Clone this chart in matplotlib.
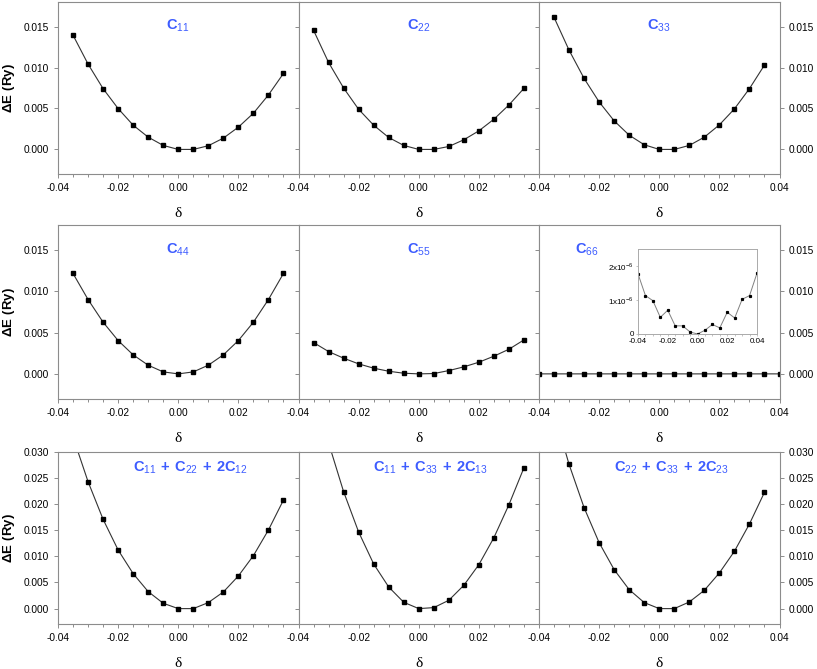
"""Strain-energy curves dE(delta) for the nine elastic constant distortions (3x3 panels)."""
import numpy as np
import matplotlib

matplotlib.use("Agg")
import matplotlib.pyplot as plt

plt.rcParams["font.family"] = ["Liberation Sans", "DejaVu Sans"]
plt.rcParams["mathtext.fontset"] = "custom"
plt.rcParams["mathtext.rm"] = "Liberation Sans"
plt.rcParams["mathtext.bf"] = "Liberation Sans:bold"

# strains
delta = [-0.035, -0.030, -0.025, -0.020, -0.015, -0.010, -0.005, 0.000,
         0.005, 0.010, 0.015, 0.020, 0.025, 0.030, 0.035]
delta_66 = [-0.040, -0.035, -0.030, -0.025, -0.020, -0.015, -0.010, -0.005, 0.000,
            0.005, 0.010, 0.015, 0.020, 0.025, 0.030, 0.035, 0.040]

# energies (Ry)
dE_11 = [0.01395, 0.01042, 0.00742, 0.00499, 0.00296, 0.00150, 0.00049, 0.0,
         0.0, 0.00045, 0.00138, 0.00272, 0.00442, 0.00665, 0.00928]
dE_22 = [0.01455, 0.01062, 0.00750, 0.00490, 0.00296, 0.00146, 0.00049, 0.0,
         0.0, 0.00036, 0.00118, 0.00227, 0.00369, 0.00543, 0.00746]
dE_33 = [0.01613, 0.01212, 0.00867, 0.00580, 0.00349, 0.00174, 0.00057, 0.0,
         0.0, 0.00049, 0.00150, 0.00300, 0.00495, 0.00742, 0.01030]
dE_44 = [0.01214, 0.00899, 0.00625, 0.00403, 0.00230, 0.00105, 0.00024, 0.0,
         0.00024, 0.00105, 0.00230, 0.00403, 0.00625, 0.00899, 0.01214]
dE_55 = [0.00379, 0.00270, 0.00190, 0.00121, 0.00069, 0.00032, 0.00008, 0.0,
         0.00004, 0.00040, 0.00085, 0.00141, 0.00214, 0.00298, 0.00411]
dE_66 = [1.77e-6, 1.13e-6, 0.98e-6, 0.49e-6, 0.70e-6, 0.24e-6, 0.24e-6, 0.06e-6, 0.0,
         0.11e-6, 0.28e-6, 0.18e-6, 0.64e-6, 0.47e-6, 1.02e-6, 1.13e-6, 1.79e-6]
dE_1122 = [0.0328, 0.02427, 0.01707, 0.01121, 0.00669, 0.00325, 0.00102, 0.0,
           0.0, 0.00115, 0.00318, 0.00624, 0.01013, 0.01503, 0.02076]
dE_1133 = [0.0426, 0.0317, 0.02236, 0.01465, 0.00854, 0.00414, 0.00121, 0.0,
           0.00019, 0.00159, 0.00446, 0.00841, 0.01357, 0.01987, 0.02694]
dE_2233 = [0.0375, 0.02758, 0.01930, 0.01261, 0.00745, 0.00363, 0.00115, 0.0,
           0.0, 0.00127, 0.00350, 0.00682, 0.01096, 0.01618, 0.02223]


def cterm(idx, pre=""):
    return r"\mathbf{%sC}_{\mathrm{%s}}" % (pre, idx)


plus = r"\mathbf{\,+\,}"
titles = ["$" + cterm("11") + "$", "$" + cterm("22") + "$", "$" + cterm("33") + "$",
          "$" + cterm("44") + "$", "$" + cterm("55") + "$", "$" + cterm("66") + "$",
          "$" + cterm("11") + plus + cterm("22") + plus + cterm("12", "2") + "$",
          "$" + cterm("11") + plus + cterm("33") + plus + cterm("13", "2") + "$",
          "$" + cterm("22") + plus + cterm("33") + plus + cterm("23", "2") + "$"]
series = [(delta, dE_11), (delta, dE_22), (delta, dE_33),
          (delta, dE_44), (delta, dE_55), (delta_66, dE_66),
          (delta, dE_1122), (delta, dE_1133), (delta, dE_2233)]

W, H = 817, 669
fig = plt.figure(figsize=(W / 100, H / 100), dpi=100)

col_left = [58, 298.5, 539]
col_w = 240.5
rows = [(2, 174), (225, 398.7), (451.7, 624.3)]  # top, bottom in pixels

grey = "#8c8c8c"
blue = "#3d5cff"

for i, ((x, y), title) in enumerate(zip(series, titles)):
    r, c = divmod(i, 3)
    top, bot = rows[r]
    ax = fig.add_axes([col_left[c] / W, (H - bot) / H, col_w / W, (bot - top) / H])
    ax.plot(x, y, "-", color="#333333", lw=0.8, marker="s", ms=3.2,
            mfc="black", mec="black", clip_on=True)
    ax.set_xlim(-0.04, 0.04)
    if r < 2:
        ax.set_ylim(-0.003, 0.018)
        ax.set_yticks([0.0, 0.005, 0.010, 0.015])
    else:
        ax.set_ylim(-0.003, 0.030)
        ax.set_yticks([0.0, 0.005, 0.010, 0.015, 0.020, 0.025, 0.030])
    ax.yaxis.set_major_formatter(matplotlib.ticker.FormatStrFormatter("%.3f"))
    if c < 2:
        ax.set_xticks([-0.04, -0.02, 0.0, 0.02])
    else:
        ax.set_xticks([-0.04, -0.02, 0.0, 0.02, 0.04])
    ax.xaxis.set_major_formatter(matplotlib.ticker.FormatStrFormatter("%.2f"))
    ax.xaxis.set_minor_locator(matplotlib.ticker.MultipleLocator(0.005))
    ax.tick_params(axis="both", which="both", direction="out", labelsize=7.3,
                   color=grey, width=0.7)
    ax.tick_params(axis="both", which="major", length=3)
    ax.tick_params(axis="x", which="minor", length=1.8)
    ax.tick_params(axis="y", left=True, right=(c == 2),
                   labelleft=(c == 0), labelright=(c == 2))
    for s in ax.spines.values():
        s.set_color(grey)
        s.set_linewidth(0.8)
    ax.set_xlabel("δ", fontsize=11, family="Liberation Serif", labelpad=10)
    if c == 0:
        ax.set_ylabel(r"$\mathbf{\Delta E\ (Ry)}$", fontsize=9.5)
        ax.yaxis.set_label_coords((17 - col_left[0]) / col_w, 0.5)
    tx = 0.5
    ty = 0.86
    if i == 5:
        tx = 0.2
    if r == 2:
        tx, ty = 0.55, 0.905
    ax.text(tx, ty, title, transform=ax.transAxes, color=blue, fontsize=10.5,
            ha="center", va="center")

# inset for C66
ins = fig.add_axes([638 / W, (H - 334) / H, 119 / W, 85 / H])
ins.plot(delta_66, dE_66, "-", color="#808080", lw=0.7, marker="s", ms=1.3,
         mfc="black", mec="black")
ins.set_xlim(-0.04, 0.04)
ins.set_ylim(0, 2.5e-6)
ins.set_xticks([-0.04, -0.02, 0.0, 0.02, 0.04])
ins.xaxis.set_major_formatter(matplotlib.ticker.FormatStrFormatter("%.2f"))
ins.xaxis.set_minor_locator(matplotlib.ticker.MultipleLocator(0.005))
ins.set_yticks([0, 1e-6, 2e-6])
ins.set_yticklabels(["0", r"1x10$^{-6}$", r"2x10$^{-6}$"])
ins.tick_params(axis="both", which="both", direction="out", labelsize=5.8,
                color="#aaaaaa", width=0.5, length=1.5, pad=1.5)
for s in ins.spines.values():
    s.set_color("#aaaaaa")
    s.set_linewidth(0.7)

fig.savefig("out.png", dpi=100)
